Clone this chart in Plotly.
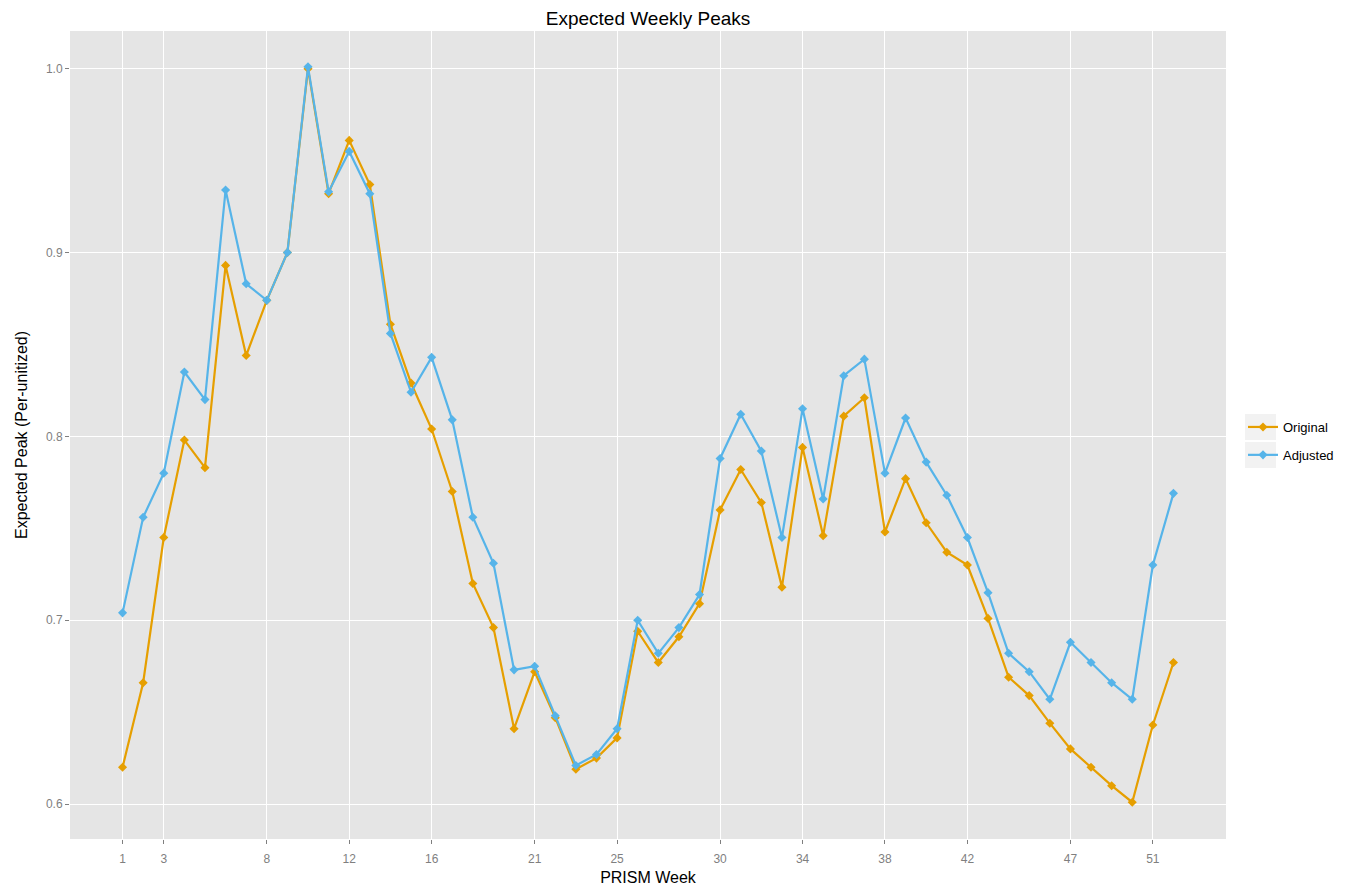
import plotly.graph_objects as go

weeks = list(range(1, 53))
original = [0.620, 0.666, 0.745, 0.798, 0.783, 0.893, 0.844, 0.874, 0.900, 1.000,
            0.932, 0.961, 0.937, 0.861, 0.829, 0.804, 0.770, 0.720, 0.696, 0.641,
            0.672, 0.647, 0.619, 0.625, 0.636, 0.694, 0.677, 0.691, 0.709, 0.760,
            0.782, 0.764, 0.718, 0.794, 0.746, 0.811, 0.821, 0.748, 0.777, 0.753,
            0.737, 0.730, 0.701, 0.669, 0.659, 0.644, 0.630, 0.620, 0.610, 0.601,
            0.643, 0.677]
adjusted = [0.704, 0.756, 0.780, 0.835, 0.820, 0.934, 0.883, 0.874, 0.900, 1.001,
            0.933, 0.955, 0.932, 0.856, 0.824, 0.843, 0.809, 0.756, 0.731, 0.673,
            0.675, 0.648, 0.621, 0.627, 0.641, 0.700, 0.682, 0.696, 0.714, 0.788,
            0.812, 0.792, 0.745, 0.815, 0.766, 0.833, 0.842, 0.780, 0.810, 0.786,
            0.768, 0.745, 0.715, 0.682, 0.672, 0.657, 0.688, 0.677, 0.666, 0.657,
            0.730, 0.769]
x_ticks = [1, 3, 8, 12, 16, 21, 25, 30, 34, 38, 42, 47, 51]
y_ticks = [0.6, 0.7, 0.8, 0.9, 1.0]
series_names = ["Original", "Adjusted"]
series_colors = ["#E69F00", "#56B4E9"]

FONT = "Liberation Sans, Arial, sans-serif"

fig = go.Figure()
for name, vals, col in zip(series_names, [original, adjusted], series_colors):
    fig.add_trace(go.Scatter(
        x=weeks, y=vals, name=name, mode="lines+markers",
        line=dict(color=col, width=2.2),
        marker=dict(symbol="diamond", size=7, color=col),
        legendgroup=name,
    ))

# page has an 8px body margin; figure placed at (8, 8)
OFF = 8
W, H = 1353 - OFF, 887 - OFF
L, R, T, B = 70 - OFF, 127, 31 - OFF, 48
PW, PH = W - L - R, H - T - B

def px_x(page_x):
    return (page_x - OFF - L) / PW

def px_y(page_y):
    return 1 - (page_y - OFF - T) / PH

# legend key backgrounds (ggplot style)
for i in range(2):
    yc = 427 + i * 28
    fig.add_shape(type="rect", xref="paper", yref="paper",
                  x0=px_x(1245), x1=px_x(1276),
                  y0=px_y(yc + 13), y1=px_y(yc - 13),
                  fillcolor="#F2F2F2", line=dict(width=0), layer="below")

fig.update_layout(
    width=W, height=H,
    margin=dict(l=L, r=R, t=T, b=B, autoexpand=False),
    paper_bgcolor="white",
    plot_bgcolor="#E5E5E5",
    font=dict(family=FONT, size=13, color="black"),
    title=dict(text="Expected Weekly Peaks", x=(L + PW / 2) / W, xanchor="center",
               y=1 - (18 - OFF) / H, yanchor="middle", font=dict(size=19, color="black")),
    legend=dict(x=px_x(1243), xanchor="left", y=px_y(441), yanchor="middle",
                bgcolor="rgba(0,0,0,0)", font=dict(size=13), tracegroupgap=8,
                itemwidth=30),
    showlegend=True,
)
fig.update_xaxes(
    range=[-1.55, 54.55], tickvals=x_ticks, ticktext=[str(t) for t in x_ticks],
    showgrid=True, gridcolor="white", gridwidth=1.2, zeroline=False,
    ticks="outside", ticklen=4, tickcolor="#7F7F7F", ticklabelstandoff=5,
    tickfont=dict(size=12, color="#7F7F7F"), automargin=False,
    title=dict(text="PRISM Week", font=dict(size=16, color="black"), standoff=6),
    showline=False,
)
fig.update_yaxes(
    range=[0.581, 1.0205], tickvals=y_ticks, ticktext=[f"{v:.1f}" for v in y_ticks],
    showgrid=True, gridcolor="white", gridwidth=1.2, zeroline=False,
    ticks="outside", ticklen=4, tickcolor="#7F7F7F", automargin=False,
    tickfont=dict(size=12, color="#7F7F7F"),
    title=dict(text="Expected Peak (Per-unitized)", font=dict(size=16, color="black"), standoff=14),
    showline=False,
)

fig.write_html("out.html")
